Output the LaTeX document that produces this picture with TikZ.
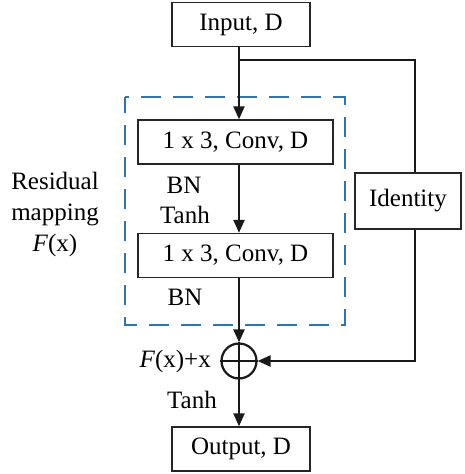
\documentclass[tikz,border=0pt]{standalone}
\usepackage{fontspec}
\setmainfont{Liberation Serif}
\usetikzlibrary{arrows.meta}
\definecolor{dblue}{RGB}{46,117,182}
\begin{document}
\begin{tikzpicture}[x=1pt,y=-1pt,
  box/.style={draw=black!85,line width=1.3pt,minimum height=44pt,inner sep=0pt,font=\fontsize{25}{31}\selectfont},
  lbl/.style={font=\fontsize{25}{31}\selectfont,inner sep=0pt},
  conn/.style={line width=2.2pt,black!90,-{Triangle[length=13pt,width=11pt]}},
  line/.style={line width=2.2pt,black!90}]
\useasboundingbox (0,0) rectangle (464,474);
\node[box,minimum width=138pt] (in) at (241,24.5) {Input, D};
\node[box,minimum width=195pt] (c1) at (235.5,142) {1 x 3, Conv, D};
\node[box,minimum width=195pt] (c2) at (235.5,255.5) {1 x 3, Conv, D};
\node[box,minimum width=106pt,minimum height=56pt] (id) at (408,201) {Identity};
\node[box,minimum width=138pt] (out) at (241,449) {Output, D};
\node[draw=black!90,line width=2.2pt,circle,minimum size=35pt,inner sep=0pt] (sum) at (239,361) {};
\draw[line width=2.2pt,black!90] (sum.north) -- (sum.south) (sum.west) -- (sum.east);
\draw[dblue,line width=2.6pt,dash pattern=on 20pt off 12pt,dash phase=4pt] (125,97) rectangle (345,325);
\coordinate (br) at (239,60);
\coordinate (tr) at (415,60);
\coordinate (bt) at (415,361);
\draw[conn] (in.south -| br) -- (c1.north -| br);
\draw[conn] (c1.south -| br) -- (c2.north -| br);
\draw[conn] (c2.south -| br) -- (sum.north);
\draw[conn] (sum.south) -- (out.north -| br);
\draw[line] (br) -- (tr) -- (id.north -| tr);
\draw[conn] (id.south -| tr) -- (bt) -- (sum.east);
\node[lbl] (bn1) at (184,185) {BN};
\node[lbl] (t1) at (185,215) {Tanh};
\node[lbl] (bn2) at (185,297) {BN};
\node[lbl,align=center] (res) at (55,214) {Residual\\mapping\\\textit{F}(x)};
\node[lbl,anchor=east] (fx) at (211,361) {\textit{F}(x)+x};
\node[lbl] (t2) at (192,400) {Tanh};
\end{tikzpicture}
\end{document}
